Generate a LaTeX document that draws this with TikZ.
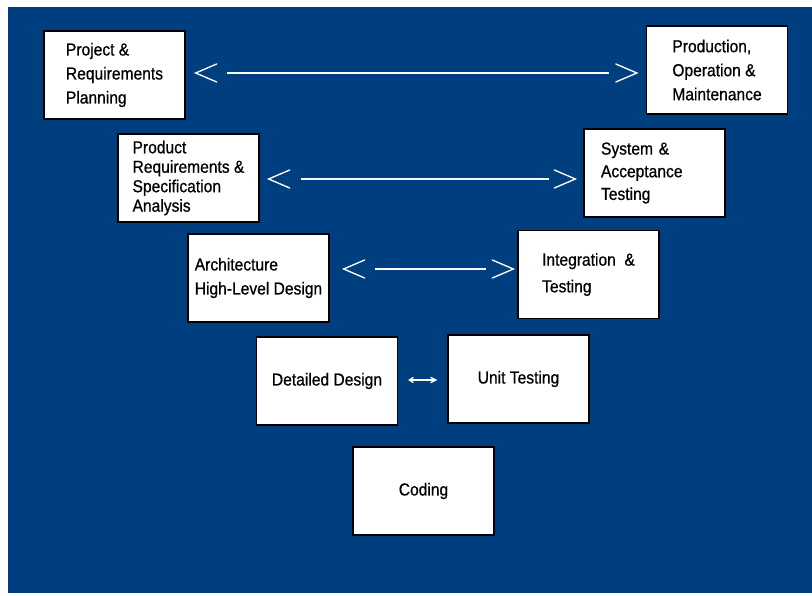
\documentclass[tikz,border=0pt]{standalone}
\usepackage{fontspec}
\newfontfamily\vfont{Liberation Sans}[FakeStretch=0.9, FakeBold=0.7]
\usetikzlibrary{arrows.meta}
\definecolor{vblue}{RGB}{0,63,127}
\tikzset{
    phase/.style={rectangle, draw=black, fill=white, line width=1pt,
        minimum width=105.75pt, minimum height=66pt,
        align=left, font=\vfont\fontsize{13}{18}\selectfont},
    shaft/.style={draw=white, line width=1.2pt},
    lchev/.pic={\draw[white, line width=1pt, line cap=round] (21,-9) -- (0,0) -- (21,9);},
    rchev/.pic={\draw[white, line width=1pt, line cap=round] (-21,-9) -- (0,0) -- (-21,9);},
    tiny link/.style={draw=white, line width=1pt,
        {Straight Barb[length=3pt, width=4pt]}-{Straight Barb[length=4pt, width=4pt]}}
}

\begin{document}
\begin{tikzpicture}[x=0.75pt, y=-0.75pt]
	\useasboundingbox (0,0) rectangle (812,595);
	\fill[vblue] (8,7) rectangle (812,593);

	% left arm of the V
	\node (proj) [phase] at (114.5, 75) {Project \&\\Requirements\\Planning};
	\node (prod) [phase, font=\vfont\fontsize{13}{14.6}\selectfont] at (188.5, 178) {Product\\Requirements \&\\Specification\\Analysis};
	\node (arch) [phase] at (258.5, 278) {Architecture\\High-Level Design};
	\node (detail) [phase] at (327, 381) {Detailed Design};
	% bottom
	\node (coding) [phase] at (423.5, 491) {Coding};
	% right arm of the V
	\node (unit) [phase] at (518.5, 379) {Unit Testing};
	\node (integ) [phase, font=\vfont\fontsize{13}{20}\selectfont] at (588.5, 274.5) {Integration~ \&\\Testing};
	\node (sys) [phase, text width=80.25pt, font=\vfont\fontsize{13}{17}\selectfont] at (654.5, 173) {System \&\\Acceptance\\Testing};
	\node (prodn) [phase] at (717, 70) {Production,\\Operation \&\\Maintenance};

	% shafts
	\draw[shaft, shorten <=30.75pt, shorten >=27.75pt] (proj.east |- 0,73) -- (prodn.west |- 0,73);
	\draw[shaft, shorten <=30.75pt, shorten >=25.5pt] (prod.east |- 0,179) -- (sys.west |- 0,179);
	\draw[shaft, shorten <=33.75pt, shorten >=23.25pt] (arch.east |- 0,269) -- (integ.west |- 0,269);
	\draw[tiny link, shorten <=7.5pt, shorten >=7.5pt] (detail.east |- 0,380) -- (unit.west |- 0,380);
	% heads
	\path (proj.east |- 0,73) ++(10,0) pic {lchev};
	\path (prodn.west |- 0,73) ++(-9,0) pic {rchev};
	\path (prod.east |- 0,179) ++(9,0) pic {lchev};
	\path (sys.west |- 0,179) ++(-8,0) pic {rchev};
	\path (arch.east |- 0,269) ++(14,0) pic {lchev};
	\path (integ.west |- 0,269) ++(-4,0) pic {rchev};
\end{tikzpicture}
\end{document}
